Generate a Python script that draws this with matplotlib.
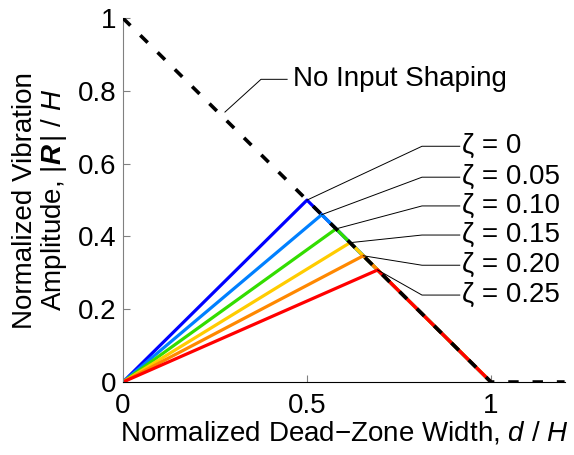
import matplotlib
matplotlib.use("Agg")
import matplotlib.pyplot as plt

plt.rcParams['font.family'] = ['Liberation Sans', 'DejaVu Sans']
plt.rcParams['mathtext.fontset'] = 'custom'
plt.rcParams['mathtext.rm'] = 'Liberation Sans'
plt.rcParams['mathtext.it'] = 'Liberation Sans:italic'
plt.rcParams['mathtext.bf'] = 'Liberation Sans:bold'
try:
    plt.rcParams['mathtext.bfit'] = 'Liberation Sans:bold:italic'
    BFIT = r'\mathbfit{R}'
except Exception:
    BFIT = r'\mathbf{R}'
plt.rcParams['lines.scale_dashes'] = False

FS = 20

# data
zeta_labels = ["0", "0.05", "0.10", "0.15", "0.20", "0.25"]
peak_x = [0.500, 0.540, 0.579, 0.617, 0.653, 0.692]
peak_y = [0.500, 0.460, 0.421, 0.383, 0.347, 0.308]
colors = ["#0000ff", "#0080ff", "#33dd00", "#ffcc00", "#ff8800", "#ff0000"]
label_y = [0.648, 0.563, 0.484, 0.404, 0.321, 0.239]

nis_x = [0.0, 1.0, 1.2]
nis_y = [1.0, 0.0, 0.0]

fig = plt.figure(figsize=(5.74, 4.55), dpi=100)
ax = fig.add_axes([0.2143, 0.1604, 0.7693, 0.7996])

for px, py, c in zip(peak_x, peak_y, colors):
    ax.plot([0, px, 1.0], [0, py, 0], color=c, lw=2.3, solid_capstyle='butt', zorder=2)

ax.plot(nis_x, nis_y, color='black', lw=2.6, dashes=(7.5, 10), zorder=3)

# leaders and labels
for px, py, ly, lab in zip(peak_x, peak_y, label_y, zeta_labels):
    ax.plot([px, 0.8125, 0.915], [py, ly, ly], color='black', lw=0.7, zorder=4)
    ax.text(0.92, ly, "ζ = " + lab, fontsize=FS, va='center', ha='left')

ax.plot([0.277, 0.375, 0.446], [0.742, 0.832, 0.832], color='black', lw=0.7, zorder=4)
ax.text(0.462, 0.834, "No Input Shaping", fontsize=FS, va='center', ha='left')

ax.set_xlim(0, 1.2)
ax.set_ylim(0, 1)
ax.set_xticks([0, 0.5, 1])
ax.set_xticklabels(["0", "0.5", "1"])
ax.set_yticks([0, 0.2, 0.4, 0.6, 0.8, 1])
ax.set_yticklabels(["0", "0.2", "0.4", "0.6", "0.8", "1"])
ax.tick_params(direction='in', length=5, labelsize=FS, width=0.8, colors='#808080', labelcolor='black')
for s in ['top', 'right']:
    ax.spines[s].set_visible(False)
ax.spines['left'].set_color('#808080')
ax.spines['bottom'].set_color('black')
ax.tick_params(axis='x', pad=8)
ax.tick_params(axis='y', pad=5)

ax.set_xlabel(r"Normalized Dead$-$Zone Width, $d$ / $H$", fontsize=FS, labelpad=0)
ax.set_ylabel("Normalized Vibration\nAmplitude, |$" + BFIT + r"\,$| / $H$", fontsize=FS, labelpad=6,
              linespacing=1.05)

fig.savefig("out.png", dpi=100)
